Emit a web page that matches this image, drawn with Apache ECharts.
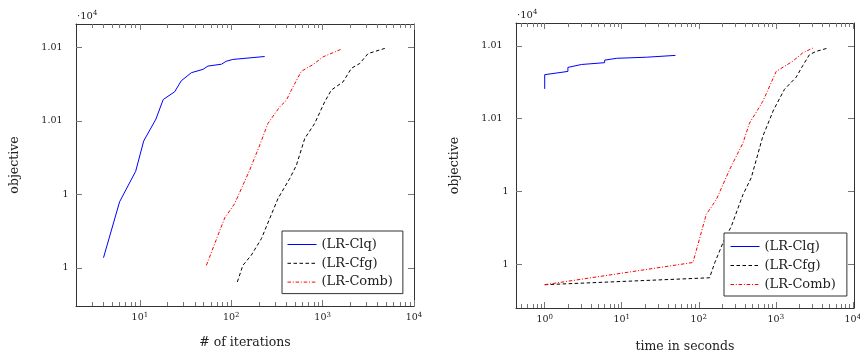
<!DOCTYPE html>
<html>
<head>
<meta charset="utf-8">
<script src="https://cdn.jsdelivr.net/npm/echarts@6/dist/echarts.min.js"></script>
<style>html,body{margin:0;padding:0;background:#fff}#c{width:860px;height:361px}</style>
</head>
<body>
<div id="c"></div>
<script>
// ---- data ----
const seriesNames = ['(LR-Clq)', '(LR-Cfg)', '(LR-Comb)'];
const yTickValues = [10020, 10040, 10060, 10080];
const yTickLabels = ['1', '1', '1.01', '1.01'];
const xTickIter = [10, 100, 1000, 10000];
const xTickTime = [1, 10, 100, 1000, 10000];

// left panel: objective vs # of iterations
const iterClqX = [4, 6, 9, 11, 15, 18, 24, 28.4, 36.6, 49, 55.6, 78, 88, 104, 232];
const iterClqY = [10022.8, 10038.0, 10046.3, 10054.5, 10060.5, 10065.8, 10067.9, 10070.9, 10073.1, 10074.0, 10074.9, 10075.4, 10076.2, 10076.7, 10077.5];
const iterCfgX = [116.6, 134, 166, 214, 325, 436, 516, 637, 819, 1054, 1249, 1672, 2066, 2549, 3142, 4787];
const iterCfgY = [10016.2, 10020.7, 10023.5, 10028.0, 10038.9, 10044.3, 10047.9, 10055.2, 10059.3, 10065.2, 10068.4, 10070.6, 10074.3, 10075.6, 10078.3, 10079.7];
const iterCombX = [53.4, 84.7, 109, 159, 205, 252, 339, 401, 455, 586, 785, 1010, 1607];
const iterCombY = [10020.7, 10033.6, 10037.5, 10046.6, 10053.4, 10059.3, 10063.8, 10065.6, 10068.4, 10073.5, 10075.3, 10077.4, 10079.5];

// right panel: objective vs time in seconds
const timeClqX = [1, 1, 2, 2, 3, 6, 6, 8.6, 21, 49.8];
const timeClqY = [10068.2, 10072.1, 10073.0, 10074.1, 10074.9, 10075.4, 10076.1, 10076.6, 10076.9, 10077.4];
const timeCfgX = [1, 138, 161, 206, 264, 374, 480, 679, 934, 1297, 1837, 2238, 2733, 3337, 4720];
const timeCfgY = [10014.4, 10016.3, 10020.4, 10025.9, 10030.4, 10039.1, 10043.8, 10055.2, 10062.4, 10068.1, 10071.4, 10074.6, 10077.6, 10078.5, 10079.4];
const timeCombX = [1, 84, 125, 169, 251, 374, 456, 679, 1012, 1660, 2238, 3015];
const timeCombY = [10014.4, 10020.5, 10033.7, 10037.8, 10046.0, 10053.3, 10058.8, 10064.8, 10073.0, 10075.8, 10078.1, 10079.4];

// ---- styling ----
const FONT = 'DejaVu Serif';
const AX = '#333';
const TK = '#777';
const zip = (xs, ys) => xs.map((x, i) => [x, ys[i]]);
function minorTicks(lo, hi) {
  const out = [];
  for (let e = Math.floor(Math.log10(lo)); e <= Math.ceil(Math.log10(hi)); e++) {
    for (let m = 2; m <= 9; m++) {
      const v = m * Math.pow(10, e);
      if (v > lo * 1.01 && v < hi * 0.99) out.push(v);
    }
  }
  return out;
}
function xAxes(grid, min, max, majors) {
  const base = { type: 'log', gridIndex: grid, min: min, max: max, logBase: 10,
    splitLine: { show: false }, minorTick: { show: false }, minorSplitLine: { show: false } };
  const majorTick = { show: true, inside: true, length: 6, customValues: majors, lineStyle: { color: TK, width: 1 } };
  const minorTick = { show: true, inside: true, length: 4, customValues: minorTicks(min, max), lineStyle: { color: TK, width: 1 } };
  return [
    Object.assign({}, base, { position: 'bottom', axisLine: { show: true, lineStyle: { color: AX, width: 1 } },
      axisTick: majorTick,
      axisLabel: { show: true, customValues: majors, margin: 6, color: '#222', fontFamily: FONT,
        formatter: v => '{b|10}{s|' + Math.round(Math.log10(v)) + '}',
        rich: { b: { fontFamily: FONT, fontSize: 9.5, lineHeight: 12, color: '#222' },
                s: { fontFamily: FONT, fontSize: 7, lineHeight: 8, verticalAlign: 'top', color: '#222' } } } }),
    Object.assign({}, base, { position: 'bottom', axisLine: { show: false }, axisTick: minorTick, axisLabel: { show: false } }),
    Object.assign({}, base, { position: 'top', axisLine: { show: true, lineStyle: { color: AX, width: 1 } }, axisTick: majorTick, axisLabel: { show: false } }),
    Object.assign({}, base, { position: 'top', axisLine: { show: false }, axisTick: minorTick, axisLabel: { show: false } })
  ];
}
function yLabel(v) {
  let best = 0;
  for (let i = 1; i < yTickValues.length; i++) if (Math.abs(yTickValues[i] - v) < Math.abs(yTickValues[best] - v)) best = i;
  const t = yTickLabels[best];
  return t.length > 1 ? '{w|' + t + '}' : '{n|' + t + '}';
}
function yAxes(grid, min, max) {
  const base = { type: 'value', gridIndex: grid, min: min, max: max, splitLine: { show: false },
    axisLine: { show: true, lineStyle: { color: AX, width: 1 } },
    axisTick: { show: true, inside: true, length: 6, customValues: yTickValues, lineStyle: { color: TK, width: 1 } } };
  return [
    Object.assign({}, base, { position: 'left', name: 'objective', nameLocation: 'middle', nameGap: 55,
      nameTextStyle: { fontFamily: FONT, fontSize: 12.5, color: '#222' },
      axisLabel: { show: true, customValues: yTickValues, margin: 7.5, formatter: yLabel,
        rich: { w: { fontFamily: FONT, fontSize: 9.5, color: '#222', padding: [0, 6, 0, 0] },
                n: { fontFamily: FONT, fontSize: 9.5, color: '#222' } } } }),
    Object.assign({}, base, { position: 'right', axisLabel: { show: false } })
  ];
}
function line(name, data, xi, yi, color, dash) {
  return { type: 'line', name: name, data: data, xAxisIndex: xi, yAxisIndex: yi, symbol: 'none', showSymbol: false,
    lineStyle: { color: color, width: 1, type: dash }, itemStyle: { color: color }, emphasis: { disabled: true }, silent: true };
}
const dashCfg = [3.5, 2.5];
const dashComb = [3.5, 1.8, 1, 1.8];

const xs = xAxes(0, 2, 10000, xTickIter).concat(xAxes(1, 0.424, 10350, xTickTime));
xs[0].name = '# of iterations';
xs[4].name = 'time in seconds';
[0, 4].forEach(i => { xs[i].nameLocation = 'middle'; xs[i].nameTextStyle = { fontFamily: FONT, fontSize: 12.5, color: '#222' }; });
xs[0].nameGap = 30;
xs[4].nameGap = 32;

const legendBase = { orient: 'vertical', itemWidth: 29, itemHeight: 14, itemGap: 5.8, borderColor: '#333', borderWidth: 1,
  backgroundColor: '#fff', selectedMode: false,
  itemStyle: { color: 'rgba(0,0,0,0)', opacity: 0, borderWidth: 0 },
  lineStyle: { width: 1 },
  textStyle: { fontFamily: FONT, fontSize: 13, color: '#222' }, data: seriesNames };

const option = {
  animation: false,
  backgroundColor: '#fff',
  grid: [
    { left: 76, top: 24, width: 338, height: 282, outerBoundsMode: 'none', containLabel: false },
    { left: 516, top: 23, width: 338, height: 285, outerBoundsMode: 'none', containLabel: false }
  ],
  xAxis: xs,
  yAxis: yAxes(0, 10009.66, 10086.34).concat(yAxes(1, 10008.0, 10086.3)),
  legend: [
    Object.assign({}, legendBase, { left: 282, top: 231, padding: [7, 10, 5, 5] }),
    Object.assign({}, legendBase, { left: 724, top: 233, padding: [7, 11, 5, 6], itemGap: 6 })
  ],
  graphic: [
    { type: 'text', left: 77, top: 10, style: { text: '{a|·10}{s|4}', rich: {
        a: { fontFamily: FONT, fontSize: 10, lineHeight: 12, fill: '#222' },
        s: { fontFamily: FONT, fontSize: 7, lineHeight: 8, verticalAlign: 'top', fill: '#222' } } } },
    { type: 'text', left: 517, top: 9, style: { text: '{a|·10}{s|4}', rich: {
        a: { fontFamily: FONT, fontSize: 10, lineHeight: 12, fill: '#222' },
        s: { fontFamily: FONT, fontSize: 7, lineHeight: 8, verticalAlign: 'top', fill: '#222' } } } }
  ],
  series: [
    line(seriesNames[0], zip(iterClqX, iterClqY), 0, 0, '#0000ff', 'solid'),
    line(seriesNames[1], zip(iterCfgX, iterCfgY), 0, 0, '#000000', dashCfg),
    line(seriesNames[2], zip(iterCombX, iterCombY), 0, 0, '#ff0000', dashComb),
    line(seriesNames[0], zip(timeClqX, timeClqY), 4, 2, '#0000ff', 'solid'),
    line(seriesNames[1], zip(timeCfgX, timeCfgY), 4, 2, '#000000', dashCfg),
    line(seriesNames[2], zip(timeCombX, timeCombY), 4, 2, '#ff0000', dashComb)
  ]
};
const chart = echarts.init(document.getElementById('c'), null, { renderer: 'canvas' });
chart.setOption(option);
</script>
</body>
</html>
